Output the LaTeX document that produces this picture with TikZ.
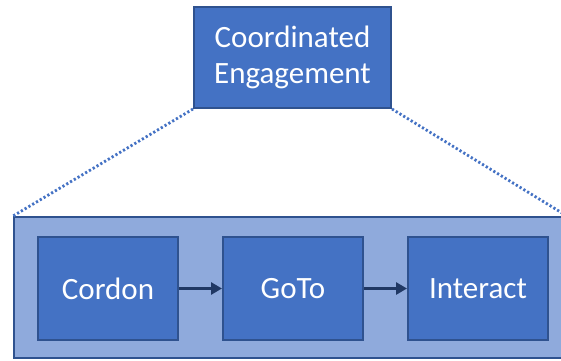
\documentclass[tikz,border=0pt]{standalone}
\usepackage{fontspec}
\setmainfont{Carlito}
\usetikzlibrary{arrows.meta}
\definecolor{boxblue}{HTML}{4472C4}
\definecolor{edgeblue}{HTML}{2F528F}
\definecolor{panelblue}{HTML}{8FAADC}
\definecolor{arrowblue}{HTML}{203864}
\tikzset{
	task box/.style={
		rectangle,
		draw=edgeblue,
		fill=boxblue,
		line width=1pt,
		text=white,
		font=\fontsize{15.5}{18}\selectfont,
		align=center,
		inner sep=0pt
	},
	step box/.style={
		task box,
		minimum width=70pt,
		minimum height=51.5pt
	},
	zoom line/.style={
		draw=boxblue,
		line width=1.4pt,
		dash pattern=on 1.1pt off 1.1pt
	},
}

\begin{document}
\begin{tikzpicture}[x=0.5pt, y=-0.5pt, >={Triangle[length=5.5pt,width=6pt]}]

\useasboundingbox (0,0) rectangle (561,360);

% parent task
\node [task box, minimum width=98.5pt, minimum height=50.5pt] (engage) at (292.5,57.5)
	{Coordinated\\Engagement};

% panel holding the sub-tasks
\node [rectangle, draw=edgeblue, fill=panelblue, line width=1pt,
	minimum width=276pt, minimum height=70.5pt, inner sep=0pt] (panel) at (290,287.5) {};

\draw [zoom line] (engage.south west) -- (panel.north west);
\draw [zoom line] (engage.south east) -- (panel.north east);

\foreach \m/\l [count=\i from 0] in {cordon/Cordon, goto/GoTo, interact/Interact}
	\node [step box] (\m) at (108+185*\i,288.5) {\l};

\foreach \a/\b in {cordon/goto, goto/interact}
	\draw [->, arrowblue, line width=1.5pt] (\a) -- (\b);

\end{tikzpicture}
\end{document}
